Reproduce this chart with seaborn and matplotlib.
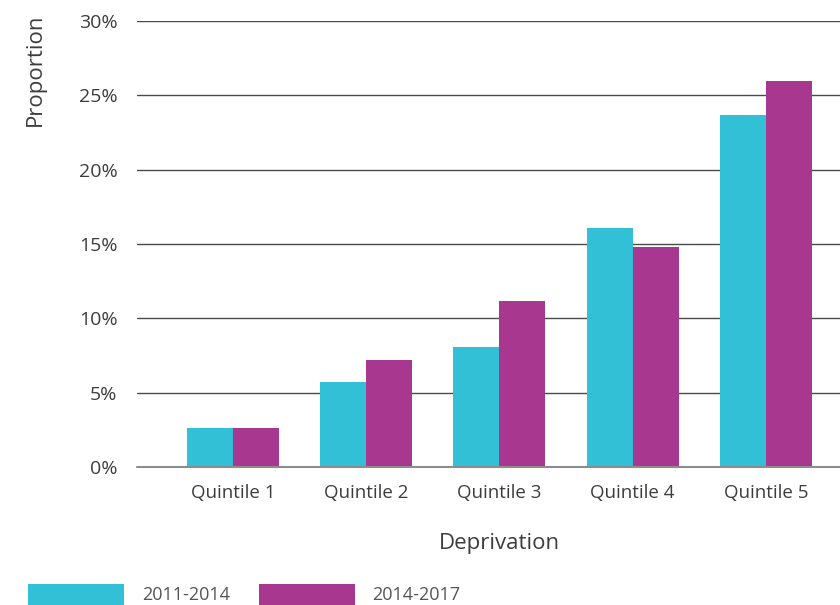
import pandas as pd
import seaborn as sns
import matplotlib.pyplot as plt
from matplotlib.ticker import FuncFormatter

# values (percent)
quintiles = ['Quintile 1', 'Quintile 2', 'Quintile 3', 'Quintile 4', 'Quintile 5']
periods = ['2011-2014', '2014-2017']
vals_2011_2014 = [2.6, 5.7, 8.1, 16.1, 23.7]
vals_2014_2017 = [2.6, 7.2, 11.2, 14.8, 26.0]
colors = ['#31c0d6', '#a8378f']

df = pd.DataFrame({
    'Deprivation': quintiles * 2,
    'Period': [periods[0]] * 5 + [periods[1]] * 5,
    'Proportion': vals_2011_2014 + vals_2014_2017,
})

sns.set_theme(style='white')
plt.rcParams['font.family'] = ['Open Sans', 'DejaVu Sans']
txt = '#3d3d3d'

fig = plt.figure(figsize=(8.4, 6.05), dpi=100)
ax = fig.add_axes([0.163, 0.228, 0.837, 0.737])

sns.barplot(data=df, x='Deprivation', y='Proportion', hue='Period',
            palette=colors, width=0.69, saturation=1, linewidth=0,
            ax=ax, legend=True)

ax.set_ylim(0, 30)
ax.set_yticks(range(0, 31, 5))
ax.yaxis.set_major_formatter(FuncFormatter(lambda v, p: f'{v:.0f}%'))
ax.set_xlim(-0.72, 4.555)
ax.set_axisbelow(True)
ax.grid(axis='y', color='#4a4a4a', linewidth=1)
ax.grid(axis='x', visible=False)
ax.axhline(0, color='#8c8c8c', linewidth=1.5, zorder=5, clip_on=False)
sns.despine(ax=ax, left=True, bottom=True, top=True, right=True)
ax.tick_params(axis='both', length=0, colors=txt)
ax.tick_params(axis='y', pad=14, labelsize=14)
ax.tick_params(axis='x', pad=12, labelsize=13.5)

ax.set_xlabel('Deprivation', fontsize=16, color=txt)
ax.xaxis.set_label_coords(0.515, -0.147)
ax.set_ylabel('')
fig.text(0.042, 0.978, 'Proportion', rotation=90, ha='center', va='top',
         fontsize=16, color=txt)

handles, labels = ax.get_legend_handles_labels()
ax.get_legend().remove()
fig.legend(handles, labels, loc='lower left', bbox_to_anchor=(0.025, -0.012),
           ncol=2, frameon=False, fontsize=13, labelcolor='#555555',
           handlelength=5.3, handleheight=1.45, handletextpad=1.0,
           columnspacing=1.6, borderaxespad=0)

fig.savefig('out.png', dpi=100)
